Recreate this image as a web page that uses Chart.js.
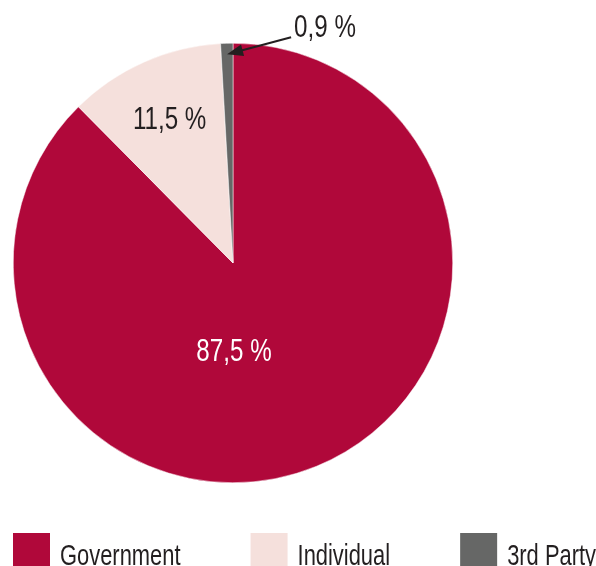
<!DOCTYPE html>
<html>
<head>
<meta charset="utf-8">
<script src="https://cdn.jsdelivr.net/npm/chart.js@4.4.0/dist/chart.umd.min.js"></script>
<style>
  html, body { margin: 0; padding: 0; background: #fff; }
  body { width: 596px; height: 566px; overflow: hidden; }
</style>
</head>
<body>
<canvas id="pie" width="596" height="566"></canvas>
<script>
// Datos del gráfico
const categories = ['Government', 'Individual', '3rd Party'];
const shares = [87.5, 11.5, 0.9];
const shareLabels = ['87,5 %', '11,5 %', '0,9 %'];
const sliceColors = ['#b0083a', '#f5e0dc', '#666766'];

const LABEL_FONT = '31px "Liberation Sans", Arial, sans-serif';
const LEGEND_FONT = '30px "Liberation Sans", Arial, sans-serif';
const INK = '#231f20';

// texto condensado horizontalmente (simula una fuente condensada)
function narrowText(ctx, text, x, y, align, squeeze) {
    const w = ctx.measureText(text).width * squeeze;
    let left = x;
    if (align === 'center') left = x - w / 2;
    if (align === 'right') left = x - w;
    ctx.save();
    ctx.translate(left, y);
    ctx.scale(squeeze, 1);
    ctx.textAlign = 'left';
    ctx.fillText(text, 0, 0);
    ctx.restore();
    return w;
}

// Etiquetas de porcentaje + leyenda
const pieLabels = {
    id: 'pieLabels',
    afterDatasetsDraw(chart) {
        const ctx = chart.ctx;
        const arcs = chart.getDatasetMeta(0).data;
        const sq = 0.78;
        ctx.save();
        ctx.font = LABEL_FONT;
        ctx.textBaseline = 'middle';

        arcs.forEach((arc, i) => {
            const r = arc.outerRadius;
            const mid = (arc.startAngle + arc.endAngle) / 2;
            if (i === 0) {
                ctx.fillStyle = '#ffffff';
                narrowText(ctx, shareLabels[i], arc.x + 1, arc.y + r * 0.405, 'center', sq);
            } else if (i === 1) {
                ctx.fillStyle = INK;
                narrowText(ctx, shareLabels[i], arc.x + Math.cos(mid) * r * 0.71,
                                                arc.y + Math.sin(mid) * r * 0.71, 'center', sq);
            } else {
                // porción pequeña: texto fuera con flecha
                const tx = arc.x + Math.cos(mid) * (r - 11);
                const ty = arc.y + Math.sin(mid) * (r - 11);
                const sx = tx + 64, sy = ty - 17;
                const ang = Math.atan2(ty - sy, tx - sx);
                ctx.strokeStyle = INK;
                ctx.fillStyle = INK;
                ctx.lineWidth = 2;
                ctx.beginPath();
                ctx.moveTo(sx, sy);
                ctx.lineTo(tx - 10 * Math.cos(ang), ty - 10 * Math.sin(ang));
                ctx.stroke();
                ctx.beginPath();
                ctx.moveTo(tx, ty);
                ctx.lineTo(tx - 16 * Math.cos(ang) + 6 * Math.sin(ang), ty - 16 * Math.sin(ang) - 6 * Math.cos(ang));
                ctx.lineTo(tx - 16 * Math.cos(ang) - 6 * Math.sin(ang), ty - 16 * Math.sin(ang) + 6 * Math.cos(ang));
                ctx.closePath();
                ctx.fill();
                narrowText(ctx, shareLabels[i], sx + 3, sy - 9, 'left', sq);
            }
        });

        // leyenda inferior, repartida de borde a borde
        const lsq = 0.73;
        ctx.font = LEGEND_FONT;
        const boxW = 37, gap = 10, left = 13, right = chart.width;
        const top = chart.chartArea.bottom + 50;
        const widths = categories.map(c => boxW + gap + ctx.measureText(c).width * lsq);
        const total = widths.reduce((a, b) => a + b, 0);
        const space = (right - left - total) / (categories.length - 1);
        let x = left;
        ctx.textBaseline = 'alphabetic';
        categories.forEach((c, i) => {
            ctx.fillStyle = sliceColors[i];
            ctx.fillRect(x, top, boxW, 40);
            ctx.fillStyle = INK;
            narrowText(ctx, c, x + boxW + gap, top + 32, 'left', lsq);
            x += widths[i] + space;
        });
        ctx.restore();
    }
};

new Chart(document.getElementById('pie'), {
    type: 'pie',
    data: {
        labels: categories,
        datasets: [{
            data: shares,
            backgroundColor: sliceColors,
            borderColor: '#ffffff',
            borderWidth: 0.5
        }]
    },
    options: {
        responsive: false,
        animation: false,
        layout: { padding: { left: 13, right: 143, top: 43, bottom: 83 } },
        plugins: {
            legend: { display: false },
            tooltip: { enabled: false }
        }
    },
    plugins: [pieLabels]
});
</script>
</body>
</html>
